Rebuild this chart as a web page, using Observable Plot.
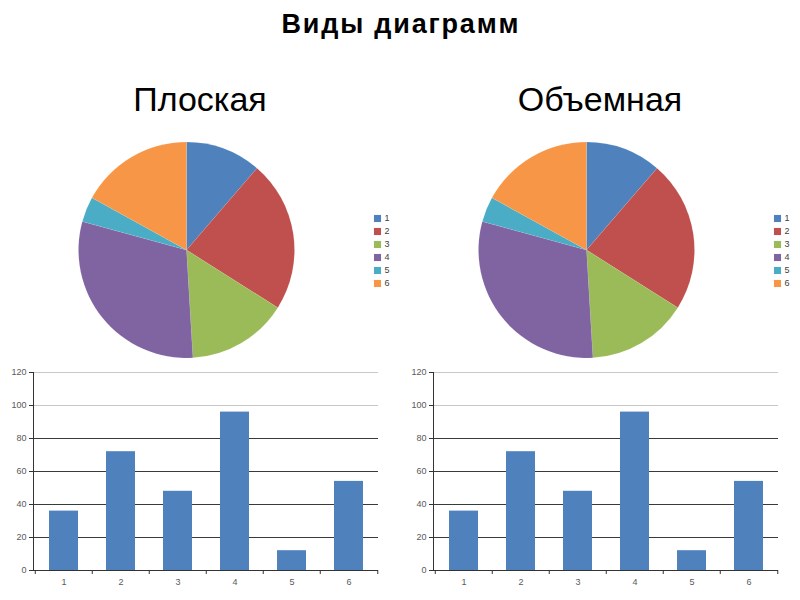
<!DOCTYPE html>
<html><head><meta charset="utf-8">
<script src="https://cdn.jsdelivr.net/npm/d3@7"></script>
<script src="https://cdn.jsdelivr.net/npm/@observablehq/plot@0.6"></script>
<style>
body{margin:0;background:#fff;font-family:"Liberation Sans",Arial,sans-serif}
#root{position:relative;width:800px;height:600px;overflow:hidden;background:#fff}
.abs{position:absolute}
#title{width:800px;text-align:center;font-weight:bold;font-size:27px;line-height:1;letter-spacing:1.8px;padding-left:1.8px;color:#000;box-sizing:border-box}
.sub{font-size:34px;line-height:1;width:300px;text-align:center;color:#000}
</style></head><body><div id="root"></div>
<script>
const title = "Виды диаграмм";
const panelTitles = ["Плоская", "Объемная"];
const categories = ["1", "2", "3", "4", "5", "6"];
const values = [36, 72, 48, 96, 12, 54];
const colors = ["#4F81BD", "#C0504D", "#9BBB59", "#8064A2", "#4BACC6", "#F79646"];
const yTicks = [0, 20, 40, 60, 80, 100, 120];

const rows = categories.map((c, i) => ({cat: c, value: values[i]}));
const root = document.getElementById("root");

function add(el, left, top, cls) {
  el.classList.add("abs");
  if (cls) el.classList.add(cls);
  el.style.left = left + "px";
  el.style.top = top + "px";
  root.appendChild(el);
  return el;
}

const t = document.createElement("div");
t.id = "title"; t.textContent = title;
add(t, 0, 10.5);

// pie drawn as a custom Plot mark using Plot's color scale
function pieMark(data, {cx, cy, r}) {
  return (index, scales) => {
    const g = d3.create("svg:g").attr("transform", `translate(${cx},${cy})`);
    const arcs = d3.pie().sort(null).value(d => d.value)(data);
    const arc = d3.arc().innerRadius(0).outerRadius(r);
    g.selectAll("path").data(arcs).join("path")
      .attr("d", arc)
      .attr("fill", a => scales.color(a.data.cat))
      .attr("stroke", "rgba(255,255,255,0.15)")
      .attr("stroke-width", 0.5);
    return g.node();
  };
}

function piePanel() {
  return Plot.plot({
    width: 400, height: 235, margin: 0,
    style: {background: "transparent", fontFamily: "Liberation Sans, Arial, sans-serif"},
    x: {axis: null},
    y: {type: "point", domain: categories, range: [80.7, 149.3], padding: 0, axis: null},
    color: {domain: categories, range: colors},
    marks: [
      pieMark(rows, {cx: 186.5, cy: 115, r: 108}),
      Plot.dot(categories, {y: d => d, fill: d => d, symbol: "square", r: 4, frameAnchor: "left", dx: 377}),
      Plot.text(categories, {y: d => d, text: d => d, frameAnchor: "left", dx: 384, textAnchor: "start", fontSize: 9, fill: "#404040"})
    ]
  });
}

function barPanel() {
  const step = (400 - 33 - 22) / categories.length;
  return Plot.plot({
    width: 400, height: 240, marginLeft: 33, marginRight: 22, marginTop: 12, marginBottom: 30,
    style: {background: "transparent", fontFamily: "Liberation Sans, Arial, sans-serif", fontSize: "9px"},
    x: {domain: categories, paddingInner: 0.5, paddingOuter: 0.25, label: null, axis: null},
    y: {domain: [0, 120], label: null, axis: null},
    marks: [
      Plot.ruleY(yTicks.filter(v => v > 0 && v <= 80), {stroke: "#3a3a3a", strokeWidth: 1}),
      Plot.ruleY(yTicks.filter(v => v > 80), {stroke: "#c8c8c8", strokeWidth: 1}),
      Plot.barY(rows, {x: "cat", y: "value", fill: colors[0]}),
      Plot.ruleY([0], {stroke: "#333"}),
      Plot.frame({anchor: "left", stroke: "#333"}),
      Plot.axisY({ticks: yTicks, tickSize: 4, text: null, stroke: "#333"}),
      Plot.axisY({ticks: yTicks, tickSize: 0, tickPadding: 7, fill: "#595959", fontSize: 9}),
      Plot.axisX({tickSize: 4, text: null, stroke: "#333", dx: -step / 2}),
      Plot.axisX({ticks: [categories[categories.length - 1]], tickSize: 4, text: null, stroke: "#333", dx: step / 2}),
      Plot.axisX({tickSize: 0, tickPadding: 8, fill: "#595959", fontSize: 9})
    ]
  });
}

panelTitles.forEach((name, k) => {
  const s = document.createElement("div");
  s.textContent = name;
  add(s, 50 + k * 400, 81.7, "sub");
  add(piePanel(), k * 400, 135);
  add(barPanel(), k * 400, 360);
});
</script>
</body></html>
